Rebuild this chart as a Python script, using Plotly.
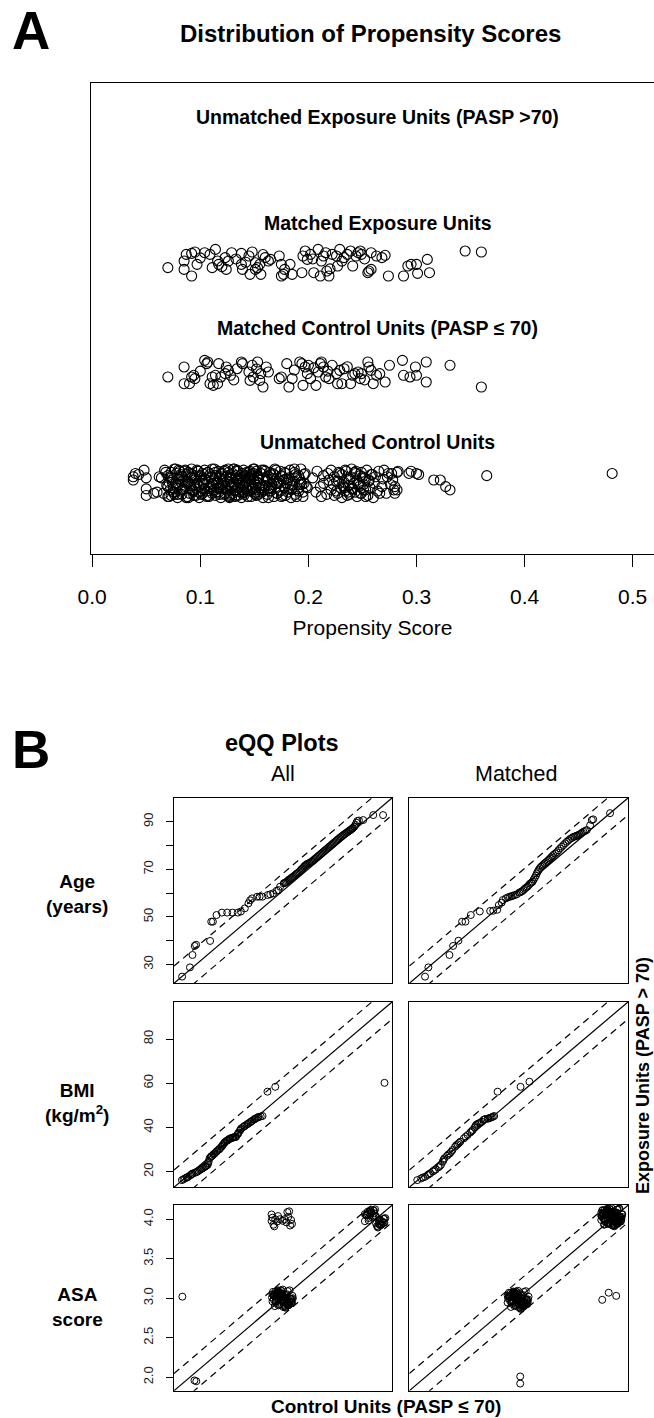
import plotly.graph_objects as go

W, H = 654, 1418
FONT = "Liberation Sans, Arial, Helvetica, sans-serif"

# ---------------- Panel A: propensity score jitter plot ----------------
GROUP_LABELS = ["Unmatched Control Units", "Matched Control Units (PASP \u2264 70)",
                "Matched Exposure Units", "Unmatched Exposure Units (PASP >70)"]
GROUP_POS = [1, 2, 3, 4]
LABEL_Y = [1.375, 2.41, 3.366, 4.33]
LABEL_X = 0.264
PS_TICKS = [0.0, 0.1, 0.2, 0.3, 0.4, 0.5]
PS_TICK_LABELS = ["0.0", "0.1", "0.2", "0.3", "0.4", "0.5"]

# matched exposure units: propensity score and vertical jitter
ME_PS = [0.070, 0.085, 0.085, 0.092, 0.087, 0.092, 0.095, 0.097, 0.104, 0.109, 0.111, 0.114, 0.116, 0.117,
         0.123, 0.124, 0.126, 0.129, 0.138, 0.138, 0.139, 0.145, 0.146, 0.148, 0.151, 0.151, 0.153, 0.155,
         0.156, 0.160, 0.163, 0.165, 0.173, 0.175, 0.177, 0.175, 0.178, 0.183, 0.185, 0.194, 0.195, 0.197,
         0.199, 0.202, 0.205, 0.209, 0.211, 0.212, 0.214, 0.216, 0.217, 0.219, 0.222, 0.226, 0.227, 0.229,
         0.233, 0.236, 0.239, 0.241, 0.244, 0.246, 0.248, 0.249, 0.255, 0.256, 0.258, 0.258, 0.263, 0.268,
         0.271, 0.274, 0.288, 0.292, 0.295, 0.300, 0.301, 0.310, 0.312, 0.345, 0.360, 0.100, 0.120, 0.133,
         0.142, 0.158, 0.204, 0.220, 0.231, 0.252]
ME_JIT = [-0.039, 0.021, -0.055, -0.115, 0.082, 0.091, 0.103, -0.009, 0.097, 0.082, -0.039, 0.127, 0.021,
          -0.009, 0.052, -0.055, 0.021, 0.097, 0.091, -0.009, -0.055, 0.067, -0.100, 0.103, 0.006, -0.055,
          -0.039, -0.009, -0.100, 0.052, 0.021, 0.036, 0.067, -0.115, -0.100, -0.009, -0.055, -0.009, -0.100,
          -0.085, 0.067, 0.112, 0.036, 0.082, -0.085, 0.127, -0.115, 0.021, 0.067, 0.097, -0.070, -0.115,
          0.082, 0.067, -0.024, 0.127, 0.052, 0.082, 0.112, -0.024, 0.067, 0.097, 0.112, 0.082, -0.085,
          -0.070, 0.097, -0.055, 0.067, 0.052, 0.073, -0.115, -0.115, -0.024, -0.009, -0.009, -0.091, 0.036,
          -0.085, 0.112, 0.103, 0.050, -0.030, 0.040, 0.010, 0.080, 0.040, -0.050, 0.020, 0.040]

# matched control units
MC_PS = [0.070, 0.085, 0.085, 0.090, 0.092, 0.094, 0.095, 0.104, 0.106, 0.107, 0.109, 0.111, 0.112, 0.114,
         0.116, 0.117, 0.119, 0.123, 0.124, 0.126, 0.128, 0.134, 0.138, 0.139, 0.145, 0.146, 0.148, 0.149,
         0.153, 0.155, 0.156, 0.158, 0.161, 0.163, 0.173, 0.175, 0.180, 0.182, 0.185, 0.192, 0.194, 0.195,
         0.197, 0.199, 0.200, 0.202, 0.207, 0.209, 0.211, 0.212, 0.214, 0.216, 0.219, 0.222, 0.226, 0.227,
         0.229, 0.231, 0.233, 0.239, 0.241, 0.243, 0.246, 0.248, 0.249, 0.255, 0.256, 0.258, 0.260, 0.263,
         0.266, 0.271, 0.275, 0.287, 0.288, 0.294, 0.299, 0.300, 0.309, 0.309, 0.331, 0.360, 0.100, 0.131,
         0.152, 0.187, 0.205, 0.218, 0.236, 0.252]
MC_JIT = [-0.033, 0.058, -0.094, -0.094, -0.033, -0.018, -0.048, 0.118, 0.088, 0.103, -0.094, -0.033, -0.109,
          -0.018, -0.094, 0.088, -0.033, -0.003, 0.058, 0.027, -0.018, 0.042, 0.103, 0.088, 0.012, -0.064,
          0.073, -0.033, 0.103, -0.064, -0.003, -0.124, 0.058, 0.012, -0.048, -0.033, 0.088, -0.124, -0.048,
          0.103, 0.088, -0.109, 0.058, -0.003, 0.073, -0.048, -0.109, 0.012, 0.088, 0.103, 0.058, -0.033,
          -0.048, 0.073, -0.003, -0.094, 0.027, -0.094, 0.042, -0.094, -0.018, -0.003, 0.012, -0.048, -0.003,
          0.103, 0.058, 0.027, -0.094, -0.018, -0.003, -0.079, 0.073, 0.118, -0.018, -0.033, 0.058, -0.018,
          0.103, -0.079, 0.073, -0.124, 0.020, -0.060, 0.040, 0.030, 0.050, 0.020, 0.060, -0.060]

# unmatched control units (scores in thousandths, jitter in hundredths), by region of the strip
UC_SPARSE_PS = [38, 40, 43, 48, 50, 50, 50, 57, 60, 62, 38, 293, 295, 300, 302, 316, 322, 327, 331, 365,
                481, 266, 280, 280, 282, 277, 283, 270, 273]
UC_SPARSE_JIT = [6, 9, 8, 12, 5, -5, -11, -9, -8, 6, 3, 9, 11, 9, 8, 3, 3, -3, -6, 7, 9, -9, -3, -9, -6, 9,
                 11, 12, 6]
UC_MID_PS = [204, 207, 208, 211, 212, 214, 214, 217, 218, 219, 221, 221, 223, 224, 224, 226, 227, 228, 230,
             231, 231, 233, 234, 235, 235, 237, 238, 239, 240, 240, 242, 243, 244, 245, 245, 247, 248, 249,
             249, 251, 252, 253, 254, 255, 256, 257, 258, 260, 261, 262, 264, 265, 268, 269, 272, 274, 276,
             278, 279, 282, 226, 229, 232, 234, 236, 238, 241, 243, 246, 248, 250, 253, 256, 259, 228, 233,
             237, 244, 247, 251]
UC_MID_JIT = [5, -8, 11, -3, -12, 7, 0, -10, 9, 3, -6, 12, -1, -11, 6, 2, -9, 10, -4, -13, 8, 1, -7, 4, 11,
              -2, -10, 6, -5, 13, 0, -8, 9, -12, 3, -3, 7, -9, 10, -1, 5, -6, 12, -11, 2, -4, 8, -13, 0, 6,
              -7, 11, -3, 4, -9, 9, -1, 3, -6, 10, -7, 9, -2, 12, -11, 4, -5, 10, -1, -9, 6, -12, 3, 8, 2,
              -4, -8, 11, 0, -6]
UC_DENSE_PS = [
    64, 66, 67, 69, 70, 70, 71, 72, 73, 73, 74, 75, 76, 76, 77, 78, 79, 80, 80, 81, 82, 83, 83, 84, 85, 86,
    86, 87, 88, 89, 89, 90, 91, 92, 92, 93, 94, 95, 95, 96, 97, 98, 98, 99, 100, 101, 101, 102, 103, 104,
    104, 105, 106, 107, 108, 108, 109, 110, 111, 111, 112, 113, 114, 114, 115, 116, 117, 117, 118, 119, 120,
    120, 121, 122, 123, 123, 124, 125, 126, 126, 127, 128, 128, 129, 130, 131, 131, 132, 133, 133, 134, 135,
    135, 136, 137, 137, 138, 139, 140, 140, 141, 142, 142, 143, 144, 145, 145, 146, 147, 147, 148, 149, 150,
    150, 151, 152, 152, 153, 154, 155, 155, 156, 157, 158, 158, 159, 160, 161, 162, 162, 163, 164, 165, 166,
    167, 168, 168, 169, 170, 171, 172, 173, 174, 175, 176, 177, 178, 179, 180, 181, 182, 183, 184, 185, 186,
    187, 188, 189, 190, 191, 192, 193, 194, 195, 196, 198, 199,
    68, 71, 72, 74, 75, 77, 78, 79, 81, 82, 84, 85, 87, 88, 90, 91, 93, 94, 96, 97, 99, 100, 102, 103, 105,
    106, 107, 109, 110, 112, 113, 115, 116, 118, 119, 121, 122, 124, 125, 127, 128, 130, 131, 132, 134, 135,
    136, 138, 139, 141, 142, 143, 144, 146, 147, 149, 150, 151, 153, 154, 156, 157, 159, 160, 162, 163, 165,
    166, 168, 170, 171, 173, 174, 176, 178, 179, 181, 183, 185, 187, 189, 191, 193, 195, 197,
    70, 73, 76, 80, 83, 86, 89, 92, 95, 98, 101, 104, 107, 111, 114, 117, 120, 123, 126, 129, 132, 135, 137,
    140, 143, 146, 148, 151, 154, 157, 160, 164, 167, 171, 175, 179, 184, 188, 192, 196,
    119, 124, 128, 133, 137, 141, 145, 149, 153, 127, 131, 139, 147, 113]
UC_DENSE_JIT = [
    5, -9, 12, -2, -12, 7, 1, -6, 10, -11, 3, -4, 13, -8, 0, 9, -13, 4, -1, 11, -7, 6, -10, 2, -5, 12, -3, 8,
    -12, 1, 10, -9, -2, 5, 13, -6, -11, 3, 7, -4, 0, 11, -8, -13, 6, 2, -10, 9, -1, 12, -5, 4, -7, 10, -12,
    1, 8, -3, -9, 13, -6, 3, -11, 7, 0, -4, 11, -8, 5, -13, 9, -2, 2, -10, 12, -5, 6, -7, -1, 10, -12, 4, 8,
    -3, -9, 1, 13, -6, -11, 7, 3, -4, 11, 0, -8, 5, -13, 9, -2, 12, -10, 2, 6, -5, -7, 10, -1, 4, -12, 8, -3,
    13, -9, 1, -6, 11, -11, 7, 3, -4, 0, 9, -8, 5, -13, 12, -2, 2, -10, 6, -5, 10, -7, -1, 4, -12, 8, 13, -3,
    -9, 1, -6, 11, 7, -11, 3, -4, 9, 0, -8, 5, 12, -13, -2, 2, 10, -10, 6, -5, -7, 4, 13, -1, -12, 8, -3,
    -4, 10, -12, 6, 1, -8, 13, -2, -10, 4, 8, -6, 11, -13, 2, -1, 9, -7, 5, -11, 12, -3, 7, -9, 0, 3, -12,
    10, -5, 6, -2, 13, -8, 1, -10, 8, -4, 11, -6, 2, -13, 5, 9, -1, -7, 12, -11, 4, 0, -9, 7, -3, 10, -12,
    3, 6, -5, 13, -8, 1, -10, 9, -2, -6, 11, 4, -13, 8, -4, 2, 12, -9, 0, -7, 6, 10, -11, 3, -1, -5, 13, -12,
    7, 1, -8,
    9, -3, 5, -10, 12, -6, 2, -13, 8, -1, 11, -7, 4, -11, 0, 10, -4, 6, -9, 13, -2, -12, 3, 7, -8, 1, 11, -5,
    -10, 5, 12, -3, -7, 9, 0, -12, 4, -6, 8, -1,
    0, -5, 6, -10, 11, 2, -8, -2, 9, 4, -11, 13, -6, 7]

# ---------------- Panel B: eQQ plots ----------------
QQ_ROW_LABELS = ["<b>Age</b><br><b>(years)</b>", "<b>BMI</b><br><b>(kg/m<sup>2</sup>)</b>", "<b>ASA</b><br><b>score</b>"]
QQ_ROW_LABEL_Y = [894, 1103, 1307]
QQ_RANGES = [[22.1, 100.1], [12.95, 96.9], [1.83, 4.18]]
QQ_TICKS = [[30, 50, 70, 90], [20, 40, 60, 80], [2.0, 2.5, 3.0, 3.5, 4.0]]
QQ_TICK_LABELS = [["30", "50", "70", "90"], ["20", "40", "60", "80"], ["2.0", "2.5", "3.0", "3.5", "4.0"]]
QQ_MINOR_TICKS = [[40, 60, 80], [], []]

AGE_ALL_CTRL = [25.0, 27.8, 28.7, 29.5, 30.0, 35.0, 35.4, 36.0, 37.3, 39.2, 41.1, 43.0, 44.9, 46.0, 47.4, 48.7,
                50.0, 51.8, 53.7, 55.6, 57.5, 58.8, 60.0, 61.3, 62.0, 62.8, 63.5, 64.2, 65.0, 65.8, 66.5, 67.3,
                68.0, 68.7, 69.3, 70.0, 70.8, 71.6, 72.4, 73.2, 74.0, 74.8, 75.6, 76.4, 77.2, 78.0, 78.8, 79.6,
                80.4, 81.2, 82.0, 82.8, 83.6, 84.4, 85.0, 85.5, 86.0, 86.5, 86.9, 87.3, 87.6, 88.2, 89.7, 93.3,
                96.8,
                61.6, 62.4, 63.1, 63.9, 64.6, 65.4, 66.1, 66.9, 67.6, 68.4, 69.0, 69.6, 70.4, 71.2, 72.0, 72.8,
                73.6, 74.4, 75.2, 76.0, 76.8, 77.6, 78.4, 79.2, 80.0, 80.8, 81.6, 82.4, 83.2, 84.0, 84.7, 85.2,
                85.8, 49.3, 52.7, 56.5, 59.4]
AGE_ALL_EXP = [24.9, 28.8, 34.0, 37.8, 38.3, 39.9, 48.0, 48.0, 50.8, 51.8, 51.8, 51.8, 51.8, 52.3, 53.6, 55.7,
               57.8, 58.5, 58.5, 59.2, 59.9, 61.3, 62.7, 64.1, 64.5, 65.2, 65.9, 66.5, 67.2, 68.0, 68.6, 69.5,
               70.4, 71.3, 71.9, 72.4, 72.9, 73.5, 74.3, 75.1, 75.9, 76.7, 77.5, 78.3, 79.1, 79.9, 80.7, 81.5,
               82.3, 83.1, 83.8, 84.6, 85.3, 85.9, 86.4, 86.9, 87.4, 87.9, 88.7, 89.6, 90.3, 90.5, 90.7, 92.8,
               92.8,
               64.3, 64.8, 65.6, 66.2, 66.9, 67.6, 68.3, 69.0, 70.0, 70.9, 71.6, 72.2, 72.6, 73.2, 73.9, 74.7,
               75.5, 76.3, 77.1, 77.9, 78.7, 79.5, 80.3, 81.1, 81.9, 82.7, 83.5, 84.2, 84.9, 85.6, 86.2, 86.6,
               87.1, 57.0, 58.5, 59.5, 61.0]
AGE_M_CTRL = [27.7, 28.9, 36.4, 37.7, 39.6, 40.9, 42.1, 44.0, 47.2, 50.9, 52.0, 53.4, 54.0, 55.4, 56.5, 57.9,
              59.0, 60.4, 61.3, 62.3, 63.2, 64.2, 65.1, 66.0, 66.8, 67.5, 68.2, 69.0, 69.9, 70.8, 71.8, 72.6,
              73.4, 74.6, 75.8, 77.0, 78.2, 79.4, 80.5, 81.5, 82.3, 83.2, 84.1, 85.3, 86.5, 87.1, 87.6, 93.6,
              55.0, 57.2, 58.5, 59.7, 61.8, 62.8, 63.7, 64.7, 65.6, 66.4, 67.2, 67.9, 68.6, 69.5, 70.3, 71.3,
              72.2, 73.0, 74.0, 75.2, 76.4, 77.6, 78.8, 80.0, 81.0, 81.9, 82.8, 83.6, 84.7]
AGE_M_EXP = [24.9, 28.8, 34.0, 37.8, 40.0, 48.0, 48.0, 50.8, 52.3, 52.5, 52.6, 53.0, 55.0, 57.1, 57.8, 58.5,
             58.9, 59.5, 60.2, 60.8, 61.8, 62.7, 64.0, 64.8, 66.5, 68.3, 69.8, 71.1, 72.0, 73.0, 74.0, 75.0,
             76.0, 77.2, 78.8, 80.2, 81.6, 82.8, 83.6, 84.0, 84.4, 85.0, 85.8, 86.5, 88.5, 90.7, 91.0, 93.6,
             56.0, 58.2, 58.7, 59.2, 60.5, 61.3, 62.3, 63.4, 64.4, 65.7, 67.4, 69.1, 70.5, 71.6, 72.5, 73.5,
             74.5, 75.5, 76.6, 78.0, 79.5, 80.9, 82.2, 83.2, 83.8, 84.2, 84.7, 85.4, 86.1]

BMI_ALL_CTRL = [16.0, 17.2, 17.8, 18.4, 19.2, 19.6, 20.1, 21.0, 21.9, 22.4, 22.9, 23.9, 24.4, 24.9, 25.4, 25.9,
                26.3, 26.6, 27.1, 27.6, 28.1, 28.6, 29.1, 29.6, 30.2, 30.7, 31.2, 31.7, 32.2, 32.7, 33.3, 33.8,
                34.3, 34.8, 35.3, 35.8, 36.3, 36.8, 37.3, 37.8, 38.3, 38.8, 39.5, 40.2, 40.9, 41.6, 42.3, 43.0,
                43.7, 44.3, 45.0, 45.6, 46.3, 47.0, 48.9, 51.9, 93.9,
                16.6, 18.0, 19.9, 21.4, 23.4, 25.1, 26.0, 27.3, 28.3, 29.4, 30.4, 31.5, 32.4, 33.5, 34.5, 35.6,
                36.6, 37.6, 38.6, 40.0, 41.3, 42.6, 44.0, 45.3]
BMI_ALL_EXP = [16.2, 17.0, 17.3, 17.7, 18.4, 18.7, 19.0, 19.5, 20.0, 20.4, 20.8, 21.5, 21.9, 22.3, 22.7, 23.1,
               24.6, 26.1, 26.7, 27.2, 27.8, 28.3, 28.9, 29.5, 30.0, 30.6, 31.3, 32.1, 32.8, 33.6, 34.0, 34.4,
               34.8, 35.1, 35.3, 35.5, 35.6, 35.8, 36.8, 37.7, 38.6, 39.6, 40.2, 40.8, 41.3, 41.9, 42.4, 43.0,
               43.6, 44.1, 44.4, 44.7, 45.0, 45.2, 56.2, 58.4, 60.2,
               16.6, 17.5, 19.2, 19.8, 21.2, 22.5, 23.8, 27.0, 28.0, 29.2, 30.3, 31.7, 33.2, 34.2, 35.0, 35.5,
               35.7, 37.2, 39.1, 40.5, 41.6, 42.7, 43.8, 44.8]
BMI_M_CTRL = [16.0, 17.5, 19.0, 20.0, 21.0, 22.0, 23.1, 24.1, 25.1, 25.8, 26.4, 27.4, 28.5, 29.5, 30.5, 31.5,
              32.5, 33.9, 35.3, 36.3, 37.3, 38.0, 38.6, 39.6, 40.7, 41.4, 42.0, 43.4, 44.5, 45.5, 46.8, 55.6,
              59.0,
              18.2, 20.5, 22.5, 24.6, 26.1, 27.9, 29.0, 31.0, 32.0, 34.6, 36.8, 38.3, 39.1, 40.2, 41.7, 43.0,
              44.0, 45.0]
BMI_M_EXP = [16.2, 17.0, 17.7, 18.5, 19.3, 20.1, 21.0, 22.0, 23.1, 24.6, 26.1, 27.2, 28.3, 29.8, 31.3, 32.4,
             33.6, 35.1, 36.6, 37.7, 38.9, 40.0, 41.2, 41.9, 42.6, 43.4, 43.8, 44.1, 44.6, 45.2, 56.2, 58.4,
             60.7,
             17.4, 18.9, 20.6, 22.5, 25.4, 27.8, 29.0, 32.0, 33.0, 35.9, 38.3, 40.6, 41.6, 42.2, 43.6, 44.0,
             44.4, 44.9]

# ASA score: discrete levels with jitter (jitter in hundredths)
JA_X = [-9, -7, -4, -1, 2, 5, 8, 10, -11, -6, -3, 0, 3, 6, 9, -8, -5, -2, 1, 4, 7, 11, -10, -7, -4, -1, 2, 5, 8,
        -9, -6, -3, 0, 3, 6, -5, -2, 1, 4, -1]
JA_Y = [3, -6, 8, -2, -9, 5, 0, -4, 1, 7, -8, 2, -5, 9, -1, -10, 4, 6, -3, 0, -7, 3, 8, -4, -9, 5, 1, -6, 10, -2,
        2, -8, 6, -5, 0, 9, -3, -11, 4, 1]
JB_X = [4, -8, 10, -2, -11, 6, 1, -5, 9, -9, 3, -4, 11, -7, 0, 7, -10, 5, -1, 8, -6, 2, -3, 10, -8, 4, -11, 6, -2,
        9, -5, 1, -9, 7, -4, 3, -7, 0, 5, -1]
JB_Y = [-7, 5, -1, 10, -4, -9, 2, 8, -6, 3, -11, 7, 0, -3, 11, -8, 4, -2, 9, -5, 6, -10, 1, -6, 8, -3, 5, -9, 2,
        -1, 10, -7, 4, -4, 7, -12, 0, 3, -8, 6]
ASA_ALL_SINGLE_CTRL = [2.05, 2.07, 1.92, 2.88, 2.89, 2.88, 2.90, 2.92, 2.94, 2.97, 3.00, 3.02, 3.05, 3.07, 3.06,
                       3.09, 3.10, 3.08, 2.91, 2.95, 3.04]
ASA_ALL_SINGLE_EXP = [1.96, 1.95, 3.02, 4.06, 4.02, 3.98, 3.93, 4.00, 3.97, 4.00, 3.98, 4.00, 4.09, 4.10, 4.03,
                      3.99, 3.94, 3.92, 3.91, 4.04, 3.96]
ASA_ALL_CLUSTERS = [((2.995, 3.00), "A"), ((3.995, 4.015), "B"), ((3.0, 3.0), "B")]
ASA_M_SINGLE_CTRL = [3.90, 3.97, 4.05, 3.02, 3.02]
ASA_M_SINGLE_EXP = [2.98, 3.07, 3.03, 2.01, 1.92]
ASA_M_CLUSTERS = [((2.995, 2.985), "B"), ((3.0, 2.99), "A"), ((4.00, 4.03), "A"), ((4.00, 4.03), "B"),
                  ((4.005, 4.035), "A")]


def cluster(center, key):
    jx, jy = (JA_X, JA_Y) if key == "A" else (JB_X, JB_Y)
    return [center[0] + d / 100 for d in jx], [center[1] + d / 100 for d in jy]


def asa_points(single_x, single_y, clusters):
    xs, ys = list(single_x), list(single_y)
    for c, k in clusters:
        cx, cy = cluster(c, k)
        xs += cx
        ys += cy
    return xs, ys


ASA_ALL = asa_points(ASA_ALL_SINGLE_CTRL, ASA_ALL_SINGLE_EXP, ASA_ALL_CLUSTERS)
ASA_M = asa_points(ASA_M_SINGLE_CTRL, ASA_M_SINGLE_EXP, ASA_M_CLUSTERS)
QQ_DATA = [[(AGE_ALL_CTRL, AGE_ALL_EXP), (AGE_M_CTRL, AGE_M_EXP)],
           [(BMI_ALL_CTRL, BMI_ALL_EXP), (BMI_M_CTRL, BMI_M_EXP)],
           [ASA_ALL, ASA_M]]

# ---------------- layout geometry (pixels) ----------------
def fx(p):
    return p / W


def fy(p):
    return 1 - p / H


COL_PX = [(174, 392.3), (409.3, 628.3)]
ROW_PX = [(797.7, 983.3), (1001.7, 1187.3), (1205, 1390.7)]

fig = go.Figure()
marker_a = dict(symbol="circle-open", size=10, color="black", line=dict(width=1.1))
strips = [
    ([v / 1000 for v in UC_SPARSE_PS], [v / 100 for v in UC_SPARSE_JIT], GROUP_POS[0]),
    ([v / 1000 for v in UC_MID_PS], [v / 100 for v in UC_MID_JIT], GROUP_POS[0]),
    ([v / 1000 for v in UC_DENSE_PS], [v / 100 for v in UC_DENSE_JIT], GROUP_POS[0]),
    (MC_PS, MC_JIT, GROUP_POS[1]),
    (ME_PS, ME_JIT, GROUP_POS[2]),
]
for ps, jit, pos in strips:
    n = min(len(ps), len(jit))
    fig.add_trace(go.Scatter(x=ps[:n], y=[pos + j for j in jit[:n]], mode="markers", marker=marker_a,
                             xaxis="x", yaxis="y", showlegend=False, hoverinfo="skip", cliponaxis=False))

layout = dict(
    width=W, height=H, margin=dict(l=0, r=0, t=0, b=0), paper_bgcolor="white", plot_bgcolor="white",
    font=dict(family=FONT, color="black"), showlegend=False,
    xaxis=dict(domain=[fx(91), 1.0], range=[-0.0011, 0.5197], showline=True, linecolor="black", linewidth=1.3,
               mirror=True, ticks="outside", ticklen=12, tickwidth=1.3, tickcolor="black",
               tickvals=PS_TICKS, ticktext=PS_TICK_LABELS, tickfont=dict(size=21, color="black"),
               ticklabelstandoff=12, showgrid=False, zeroline=False, automargin=False, anchor="y",
               title=dict(text="Propensity Score", font=dict(size=21), standoff=13)),
    yaxis=dict(domain=[fy(553.5), fy(83.3)], range=[0.362, 4.637], showline=True, linecolor="black",
               linewidth=1.3, ticks="", showticklabels=False, showgrid=False, zeroline=False, anchor="x"),
)

annotations = [
    dict(text="<b>A</b>", x=fx(31), y=fy(31), font=dict(size=53)),
    dict(text="<b>Distribution of Propensity Scores</b>", x=fx(370), y=fy(34), font=dict(size=24)),
    dict(text="<b>B</b>", x=fx(31), y=fy(750), font=dict(size=53)),
    dict(text="<b>eQQ Plots</b>", x=fx(282), y=fy(743), font=dict(size=23.5)),
    dict(text="All", x=fx(283), y=fy(774), font=dict(size=21.5)),
    dict(text="Matched", x=fx(516), y=fy(774), font=dict(size=21.5)),
    dict(text="<b>Control Units (PASP \u2264 70)</b>", x=fx(386), y=fy(1406), font=dict(size=19)),
    dict(text="<b>Exposure Units (PASP > 70)</b>", x=fx(643), y=fy(1076), font=dict(size=18), textangle=-90),
]
for lab, yc in zip(QQ_ROW_LABELS, QQ_ROW_LABEL_Y):
    annotations.append(dict(text=lab, x=fx(77), y=fy(yc), font=dict(size=19)))
for a in annotations:
    a.update(xref="paper", yref="paper", showarrow=False, xanchor="center", yanchor="middle")
for lab, yv in zip(GROUP_LABELS, LABEL_Y):
    annotations.append(dict(text="<b>" + lab + "</b>", x=LABEL_X, y=yv, xref="x", yref="y", showarrow=False,
                            xanchor="center", yanchor="middle", font=dict(size=19.5)))

marker_b = dict(symbol="circle-open", size=7, color="black", line=dict(width=1))
k = 2
for r in range(3):
    lo, hi = QQ_RANGES[r]
    d = 0.1 * (hi - lo) / 1.08
    for c in range(2):
        xs, ys = QQ_DATA[r][c]
        if r < 2:
            xs, ys = sorted(xs), sorted(ys)
        xa, ya = "x%d" % k, "y%d" % k
        for off, dash in [(0, "solid"), (d, "7px,5px"), (-d, "7px,5px")]:
            fig.add_trace(go.Scatter(x=[lo, hi], y=[lo + off, hi + off], mode="lines",
                                     line=dict(color="black", width=1.2, dash=dash),
                                     xaxis=xa, yaxis=ya, showlegend=False, hoverinfo="skip"))
        fig.add_trace(go.Scatter(x=xs, y=ys, mode="markers", marker=marker_b, xaxis=xa, yaxis=ya,
                                 showlegend=False, hoverinfo="skip"))
        layout["xaxis%d" % k] = dict(domain=[fx(COL_PX[c][0]), fx(COL_PX[c][1])], range=[lo, hi],
                                     showline=True, linecolor="black", linewidth=1.4, mirror=True, ticks="",
                                     showticklabels=False, showgrid=False, zeroline=False, anchor=ya,
                                     fixedrange=True)
        yax = dict(domain=[fy(ROW_PX[r][1]), fy(ROW_PX[r][0])], range=[lo, hi], showline=True,
                   linecolor="black", linewidth=1.4, mirror=True, showgrid=False, zeroline=False, anchor=xa,
                   automargin=False)
        if c == 0:
            yax.update(ticks="outside", ticklen=7, tickwidth=1.2, tickcolor="black", tickmode="array",
                       tickvals=QQ_TICKS[r], ticktext=QQ_TICK_LABELS[r], tickangle=-90, ticklabelstandoff=8,
                       tickfont=dict(size=13, color="#222"))
            if QQ_MINOR_TICKS[r]:
                yax["minor"] = dict(ticks="outside", ticklen=7, tickwidth=1.2, tickcolor="black",
                                    tickmode="array", tickvals=QQ_MINOR_TICKS[r], showgrid=False)
        else:
            yax.update(ticks="", showticklabels=False)
        layout["yaxis%d" % k] = yax
        k += 1

layout["annotations"] = annotations
fig.update_layout(**layout)
fig.write_html("out.html", config={"displayModeBar": False},
               post_script="document.body.style.margin='0';document.body.style.overflow='hidden';")
